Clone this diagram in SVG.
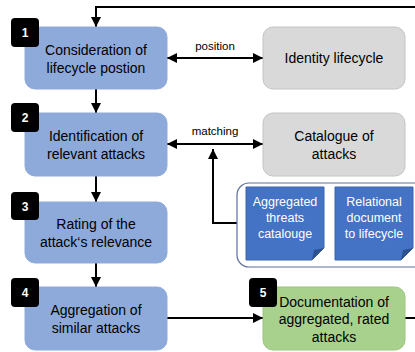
<svg xmlns="http://www.w3.org/2000/svg" width="415" height="352" viewBox="0 0 415 352">
<defs>
<marker id="ah" viewBox="0 0 10 10" refX="10" refY="5" markerWidth="10" markerHeight="10" markerUnits="userSpaceOnUse" orient="auto-start-reverse">
<path d="M0,0 L10,5 L0,10 z" fill="#000"/>
</marker>
<style>
.step{fill:#8eaadb;stroke:#8eaadb;stroke-width:1}
.ext{fill:#d9d9d9;stroke:#c4c4c4;stroke-width:1}
.done{fill:#a9d18e;stroke:#9cc47f;stroke-width:1}
.badge{fill:#000}
.bn{font-family:"Liberation Sans",Arial,sans-serif;font-size:12px;font-weight:bold;fill:#fff;text-anchor:middle}
.t{font-family:"Liberation Sans",Arial,sans-serif;font-size:14px;fill:#000;text-anchor:middle}
.lbl{font-family:"Liberation Sans",Arial,sans-serif;font-size:11.5px;fill:#000;text-anchor:middle}
.dt{font-family:"Liberation Sans",Arial,sans-serif;font-size:12.5px;fill:#fff;text-anchor:middle}
.doc{fill:#4472c4;stroke:#3a64b0;stroke-width:1}
.fold{fill:#2f528f}
.ln{fill:none;stroke:#000;stroke-width:2}
</style>
</defs>
<g id="connectors">
<path class="ln" d="M405,318 H420 V7 H96 V27" marker-end="url(#ah)"/>
<path class="ln" d="M96,89 V113" marker-end="url(#ah)"/>
<path class="ln" d="M96,176 V202" marker-end="url(#ah)"/>
<path class="ln" d="M96,263 V287" marker-end="url(#ah)"/>
<path class="ln" d="M167,318 H263" marker-end="url(#ah)"/>
<path class="ln" d="M167,58 H263" marker-start="url(#ah)" marker-end="url(#ah)"/>
<path class="ln" d="M167,144 H263" marker-start="url(#ah)" marker-end="url(#ah)"/>
<path class="ln" d="M237,223 H213 V149" marker-end="url(#ah)"/>
<text class="lbl" x="215" y="50">position</text>
<text class="lbl" x="215" y="135">matching</text>
</g>
<g id="step1">
<rect class="step" x="25" y="27" width="142" height="62" rx="10"/>
<text class="t" x="96" y="55">Consideration of</text>
<text class="t" x="96" y="73">lifecycle postion</text>
<rect class="badge" x="11" y="18" width="28" height="29" rx="4"/>
<text class="bn" x="25" y="37">1</text>
</g>
<g id="step2">
<rect class="step" x="25" y="113" width="142" height="63" rx="10"/>
<text class="t" x="96" y="141">Identification of</text>
<text class="t" x="96" y="159">relevant attacks</text>
<rect class="badge" x="11" y="103" width="28" height="29" rx="4"/>
<text class="bn" x="25" y="122">2</text>
</g>
<g id="step3">
<rect class="step" x="25" y="202" width="142" height="61" rx="10"/>
<text class="t" x="96" y="229">Rating of the</text>
<text class="t" x="96" y="247">attack‘s relevance</text>
<rect class="badge" x="11" y="192" width="28" height="28" rx="4"/>
<text class="bn" x="25" y="211">3</text>
</g>
<g id="step4">
<rect class="step" x="25" y="287" width="142" height="63" rx="10"/>
<text class="t" x="96" y="315">Aggregation of</text>
<text class="t" x="96" y="333">similar attacks</text>
<rect class="badge" x="11" y="278" width="28" height="29" rx="4"/>
<text class="bn" x="25" y="297">4</text>
</g>
<g id="identity">
<rect class="ext" x="263" y="27" width="142" height="62" rx="10"/>
<text class="t" x="334" y="63">Identity lifecycle</text>
</g>
<g id="catalogue">
<rect class="ext" x="263" y="113" width="142" height="63" rx="10"/>
<text class="t" x="334" y="141">Catalogue of</text>
<text class="t" x="334" y="159">attacks</text>
</g>
<g id="documents">
<rect x="237" y="183" width="190" height="84" rx="12" fill="#fff" stroke="#5b6f9e" stroke-width="1.2"/>
<path class="doc" d="M246,187 H324 V248 L312,260 H246 Z"/>
<path class="fold" d="M324,248 L312,260 L314,250 Z"/>
<text class="dt" x="285" y="206">Aggregated</text>
<text class="dt" x="285" y="222">threats</text>
<text class="dt" x="285" y="238">catalouge</text>
<path class="doc" d="M335,187 H413 V248 L401,260 H335 Z"/>
<path class="fold" d="M413,248 L401,260 L403,250 Z"/>
<text class="dt" x="374" y="206">Relational</text>
<text class="dt" x="374" y="222">document</text>
<text class="dt" x="374" y="238">to lifecycle</text>
</g>
<g id="step5">
<rect class="done" x="263" y="287" width="142" height="63" rx="10"/>
<text class="t" x="334" y="307">Documentation of</text>
<text class="t" x="334" y="324">aggregated, rated</text>
<text class="t" x="334" y="342">attacks</text>
<rect class="badge" x="249" y="278" width="28" height="29" rx="4"/>
<text class="bn" x="263" y="297">5</text>
</g>
</svg>
